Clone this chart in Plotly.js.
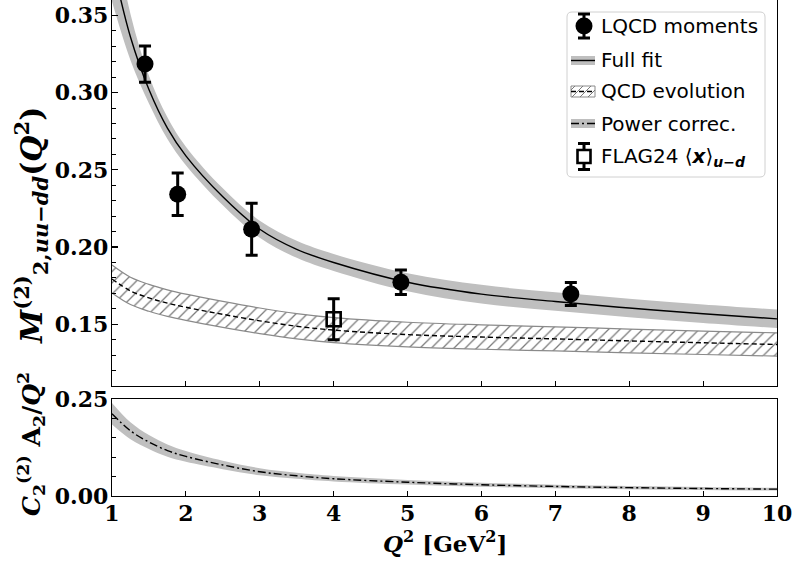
<!DOCTYPE html>
<html>
<head>
<meta charset="utf-8">
<script src="https://cdn.plot.ly/plotly-3.0.1.min.js"></script>
<style>
html,body{margin:0;padding:0;background:#fff;}
#chart{width:793px;height:568px;}
</style>
</head>
<body>
<div id="chart"></div>
<script>
// ---- data ----
const Q2 = [1, 1.25, 1.5, 1.75, 2, 2.5, 3, 3.5, 4, 5, 6, 7, 8, 9, 10];
const fullFit = [0.385, 0.336, 0.302, 0.277, 0.259, 0.2325, 0.2115, 0.1985, 0.190, 0.1772, 0.1695, 0.1647, 0.1605, 0.1568, 0.1535];
const fullErr = [0.026, 0.015, 0.009, 0.007, 0.006, 0.0055, 0.0055, 0.0055, 0.0055, 0.0058, 0.006, 0.006, 0.006, 0.006, 0.006];
const qcdEvo = [0.1793, 0.1716, 0.1671, 0.1637, 0.1610, 0.1564, 0.1522, 0.1487, 0.1462, 0.1433, 0.1417, 0.1405, 0.1392, 0.1380, 0.1369];
const qcdErr = [0.009, 0.0088, 0.0087, 0.0086, 0.0085, 0.0084, 0.0083, 0.0082, 0.0081, 0.008, 0.0079, 0.0078, 0.0077, 0.0076, 0.0075];
const powerCorr = [0.212, 0.168, 0.139, 0.117, 0.102, 0.080, 0.0625, 0.052, 0.0445, 0.0355, 0.029, 0.0246, 0.0215, 0.0193, 0.0176];
const powerErr = [0.028, 0.022, 0.018, 0.016, 0.014, 0.011, 0.009, 0.0078, 0.007, 0.006, 0.0052, 0.0046, 0.0042, 0.0038, 0.0035];

const lqcdQ2 = [1.447, 1.889, 2.89, 4.91, 7.21];
const lqcdM = [0.3185, 0.2342, 0.2115, 0.1772, 0.1696];
const lqcdErr = [0.0117, 0.0137, 0.0168, 0.0079, 0.0075];

const flagQ2 = [4.0];
const flagX = [0.1532];
const flagErr = [0.0133];

const yTicksTop = [0.15, 0.20, 0.25, 0.30, 0.35];
const yTickTextTop = ['0.15', '0.20', '0.25', '0.30', '0.35'];
const yTicksBot = [0, 0.25];
const yTickTextBot = ['0.00', '0.25'];
const xTicks = [1, 2, 3, 4, 5, 6, 7, 8, 9, 10];

const legendLabels = ['LQCD moments', 'Full fit', 'QCD evolution', 'Power correc.',
  'FLAG24 ⟨<b><i>x</i></b>⟩<sub><b><i>u</i>−<i>d</i></b></sub>'];

// ---- geometry ----
const W = 793, H = 568;
const ML = 112, MR = 16, MT = 0, MB = 72;
const PW = W - ML - MR, PH = H - MT - MB;
const X = px => (px - ML) / PW;
const Y = py => (PH + MT - py) / PH;

const grey = '#bfbfbf';
const hatchGrey = '#7a7a7a';

const add = (a, b, s) => a.map((v, i) => v + s * b[i]);

const traces = [];
// full fit band
traces.push({x: Q2, y: add(fullFit, fullErr, 1), xaxis: 'x', yaxis: 'y', mode: 'lines',
  line: {width: 0, shape: 'spline', color: grey}, hoverinfo: 'skip', showlegend: false});
traces.push({x: Q2, y: add(fullFit, fullErr, -1), xaxis: 'x', yaxis: 'y', mode: 'lines', fill: 'tonexty',
  fillcolor: grey, line: {width: 0, shape: 'spline', color: grey}, hoverinfo: 'skip', showlegend: false});
// qcd evolution hatched band
traces.push({x: Q2, y: add(qcdEvo, qcdErr, 1), xaxis: 'x', yaxis: 'y', mode: 'lines',
  line: {width: 1.2, shape: 'spline', color: '#8a8a8a'}, hoverinfo: 'skip', showlegend: false});
traces.push({x: Q2, y: add(qcdEvo, qcdErr, -1), xaxis: 'x', yaxis: 'y', mode: 'lines', fill: 'tonexty',
  fillcolor: 'rgba(0,0,0,0)',
  fillpattern: {shape: '/', fgcolor: hatchGrey, bgcolor: 'rgba(255,255,255,0)', size: 8, solidity: 0.16},
  line: {width: 1.2, shape: 'spline', color: '#8a8a8a'}, hoverinfo: 'skip', showlegend: false});
// qcd evolution central dashed
traces.push({x: Q2, y: qcdEvo, xaxis: 'x', yaxis: 'y', mode: 'lines',
  line: {width: 1.4, shape: 'spline', color: 'black', dash: '5px,3px'}, showlegend: false, name: 'QCD evolution'});
// full fit line
traces.push({x: Q2, y: fullFit, xaxis: 'x', yaxis: 'y', mode: 'lines',
  line: {width: 1.4, shape: 'spline', color: 'black'}, showlegend: false, name: 'Full fit'});
// LQCD points
traces.push({x: lqcdQ2, y: lqcdM, xaxis: 'x', yaxis: 'y', mode: 'markers', name: 'LQCD moments',
  marker: {symbol: 'circle', size: 17, color: 'black'},
  error_y: {type: 'data', array: lqcdErr, visible: true, color: 'black', thickness: 3, width: 6},
  showlegend: false});
// FLAG point
traces.push({x: flagQ2, y: flagX, xaxis: 'x', yaxis: 'y', mode: 'markers', name: 'FLAG24',
  marker: {symbol: 'square-open', size: 14, color: 'black', line: {width: 2.6, color: 'black'}},
  error_y: {type: 'data', array: flagErr, visible: true, color: 'black', thickness: 3, width: 6},
  showlegend: false});
// power correction band + line
traces.push({x: Q2, y: add(powerCorr, powerErr, 1), xaxis: 'x2', yaxis: 'y2', mode: 'lines',
  line: {width: 0, shape: 'spline', color: grey}, hoverinfo: 'skip', showlegend: false});
traces.push({x: Q2, y: add(powerCorr, powerErr, -1), xaxis: 'x2', yaxis: 'y2', mode: 'lines', fill: 'tonexty',
  fillcolor: grey, line: {width: 0, shape: 'spline', color: grey}, hoverinfo: 'skip', showlegend: false});
traces.push({x: Q2, y: powerCorr, xaxis: 'x2', yaxis: 'y2', mode: 'lines', name: 'Power correc.',
  line: {width: 1.4, shape: 'spline', color: 'black', dash: '8px,3px,2px,3px'}, showlegend: false});

const tickFont = {family: 'DejaVu Serif', size: 22, color: 'black', weight: 'bold'};
const axCommon = {showline: true, linecolor: 'black', linewidth: 1.3, mirror: true, ticks: 'inside',
  tickcolor: 'black', tickwidth: 1.2, showgrid: false, zeroline: false, tickfont: tickFont};

// ---- custom legend ----
const shapes = [];
const annotations = [];
const lx0 = 567, lx1 = 765, ly0 = 12, ly1 = 177, r = 5;
shapes.push({type: 'path', xref: 'paper', yref: 'paper',
  path: `M${X(lx0 + r)},${Y(ly0)} L${X(lx1 - r)},${Y(ly0)} Q${X(lx1)},${Y(ly0)} ${X(lx1)},${Y(ly0 + r)} ` +
        `L${X(lx1)},${Y(ly1 - r)} Q${X(lx1)},${Y(ly1)} ${X(lx1 - r)},${Y(ly1)} L${X(lx0 + r)},${Y(ly1)} ` +
        `Q${X(lx0)},${Y(ly1)} ${X(lx0)},${Y(ly1 - r)} L${X(lx0)},${Y(ly0 + r)} Q${X(lx0)},${Y(ly0)} ${X(lx0 + r)},${Y(ly0)} Z`,
  line: {color: '#d0d0d0', width: 1}, fillcolor: 'rgba(255,255,255,0.85)'});
const rowY = [26, 60.5, 91.5, 123.5, 156.5];
const sx0 = 571, sx1 = 595, sxc = 584;
const seg = (x0, y0, x1, y1, color, width, dash) => shapes.push({type: 'line', xref: 'paper', yref: 'paper',
  x0: X(x0), y0: Y(y0), x1: X(x1), y1: Y(y1), line: {color, width, dash: dash || 'solid'}});
const rect = (x0, y0, x1, y1, fill, lc, lw) => shapes.push({type: 'rect', xref: 'paper', yref: 'paper',
  x0: X(x0), y0: Y(y0), x1: X(x1), y1: Y(y1), fillcolor: fill, line: {color: lc, width: lw}});
// LQCD symbol
seg(sxc, rowY[0] - 12, sxc, rowY[0] + 12, 'black', 3);
seg(sxc - 6, rowY[0] - 12, sxc + 6, rowY[0] - 12, 'black', 3);
seg(sxc - 6, rowY[0] + 12, sxc + 6, rowY[0] + 12, 'black', 3);
shapes.push({type: 'circle', xref: 'paper', yref: 'paper', x0: X(sxc - 8.5), x1: X(sxc + 8.5),
  y0: Y(rowY[0] - 8.5), y1: Y(rowY[0] + 8.5), fillcolor: 'black', line: {color: 'black', width: 0}});
// Full fit symbol
rect(sx0, rowY[1] - 4.5, sx1, rowY[1] + 4.5, grey, grey, 0);
seg(sx0, rowY[1], sx1, rowY[1], 'black', 1.4);
// QCD evolution symbol
rect(sx0, rowY[2] - 5.5, sx1, rowY[2] + 5.5, 'white', '#8a8a8a', 1);
{
  const bx0 = sx0, bx1 = sx1, by0 = rowY[2] - 5.5, by1 = rowY[2] + 5.5;
  for (let c = bx0 + by0 + 4; c < bx1 + by1; c += 8) {
    const xa = Math.max(bx0, c - by1), xb = Math.min(bx1, c - by0);
    if (xb > xa) seg(xa, c - xa, xb, c - xb, hatchGrey, 1);
  }
}
seg(sx0, rowY[2], sx1, rowY[2], 'black', 1.4, '5px,3px');
// Power correction symbol
rect(sx0, rowY[3] - 4.5, sx1, rowY[3] + 4.5, grey, grey, 0);
seg(sx0, rowY[3], sx1, rowY[3], 'black', 1.4, '8px,3px,2px,3px');
// FLAG symbol
seg(sxc, rowY[4] - 13, sxc, rowY[4] + 13, 'black', 3);
seg(sxc - 6, rowY[4] - 13, sxc + 6, rowY[4] - 13, 'black', 3);
seg(sxc - 6, rowY[4] + 13, sxc + 6, rowY[4] + 13, 'black', 3);
rect(sxc - 6.5, rowY[4] - 6.5, sxc + 6.5, rowY[4] + 6.5, 'white', 'black', 2.6);

legendLabels.forEach((t, i) => annotations.push({xref: 'paper', yref: 'paper', x: X(599), y: Y(rowY[i]),
  xanchor: 'left', yanchor: 'middle', showarrow: false, text: t,
  font: {family: 'DejaVu Sans', size: 20, color: 'black'}}));

// ---- axis titles ----
const titleFont = {family: 'DejaVu Serif', size: 23, color: 'black', weight: 'bold'};
annotations.push({xref: 'paper', yref: 'paper', x: X(31), y: Y(226), xanchor: 'center', yanchor: 'middle',
  showarrow: false, textangle: -90, font: Object.assign({}, titleFont, {size: 30}),
  text: '<i>M</i><sup>(2)</sup><sub>2,<i>uu</i>−<i>dd</i></sub>(<i>Q</i><sup>2</sup>)'});
annotations.push({xref: 'paper', yref: 'paper', x: X(31), y: Y(444), xanchor: 'center', yanchor: 'middle',
  showarrow: false, textangle: -90, font: Object.assign({}, titleFont, {size: 25}),
  text: '<i>C</i><sub>2</sub><sup>(2)</sup> A<sub>2</sub>/<i>Q</i><sup>2</sup>'});
annotations.push({xref: 'paper', yref: 'paper', x: X(444.5), y: Y(542), xanchor: 'center', yanchor: 'middle',
  showarrow: false, font: titleFont,
  text: '<i>Q</i><sup>2</sup> [GeV<sup>2</sup>]'});

const topBottomPx = 386, botTopPx = 399;
const layout = {
  width: W, height: H,
  margin: {l: ML, r: MR, t: MT, b: MB, pad: 0},
  paper_bgcolor: 'white', plot_bgcolor: 'white',
  showlegend: false,
  xaxis: Object.assign({}, axCommon, {domain: [0, 1], anchor: 'y', range: [1, 10], tickvals: xTicks,
    showticklabels: false, ticklen: 5}),
  yaxis: Object.assign({}, axCommon, {domain: [Y(topBottomPx), 1], anchor: 'x', range: [0.11, 0.36],
    tickvals: yTicksTop, ticktext: yTickTextTop, ticklen: 6, ticklabelstandoff: -2,
    minor: {dtick: 0.01, tick0: 0, ticks: 'inside', ticklen: 3.5, tickcolor: 'black', tickwidth: 1, showgrid: false}}),
  xaxis2: Object.assign({}, axCommon, {domain: [0, 1], anchor: 'y2', range: [1, 10], tickvals: xTicks,
    ticklen: 5, ticklabelstandoff: -3}),
  yaxis2: Object.assign({}, axCommon, {domain: [0, Y(botTopPx)], anchor: 'x2', range: [0, 0.25],
    tickvals: yTicksBot, ticktext: yTickTextBot, ticklen: 6, ticklabelstandoff: -2,
    minor: {dtick: 0.05, tick0: 0, ticks: 'inside', ticklen: 3.5, tickcolor: 'black', tickwidth: 1, showgrid: false}}),
  shapes, annotations
};

Plotly.newPlot('chart', traces, layout, {staticPlot: true, displayModeBar: false});
</script>
</body>
</html>
